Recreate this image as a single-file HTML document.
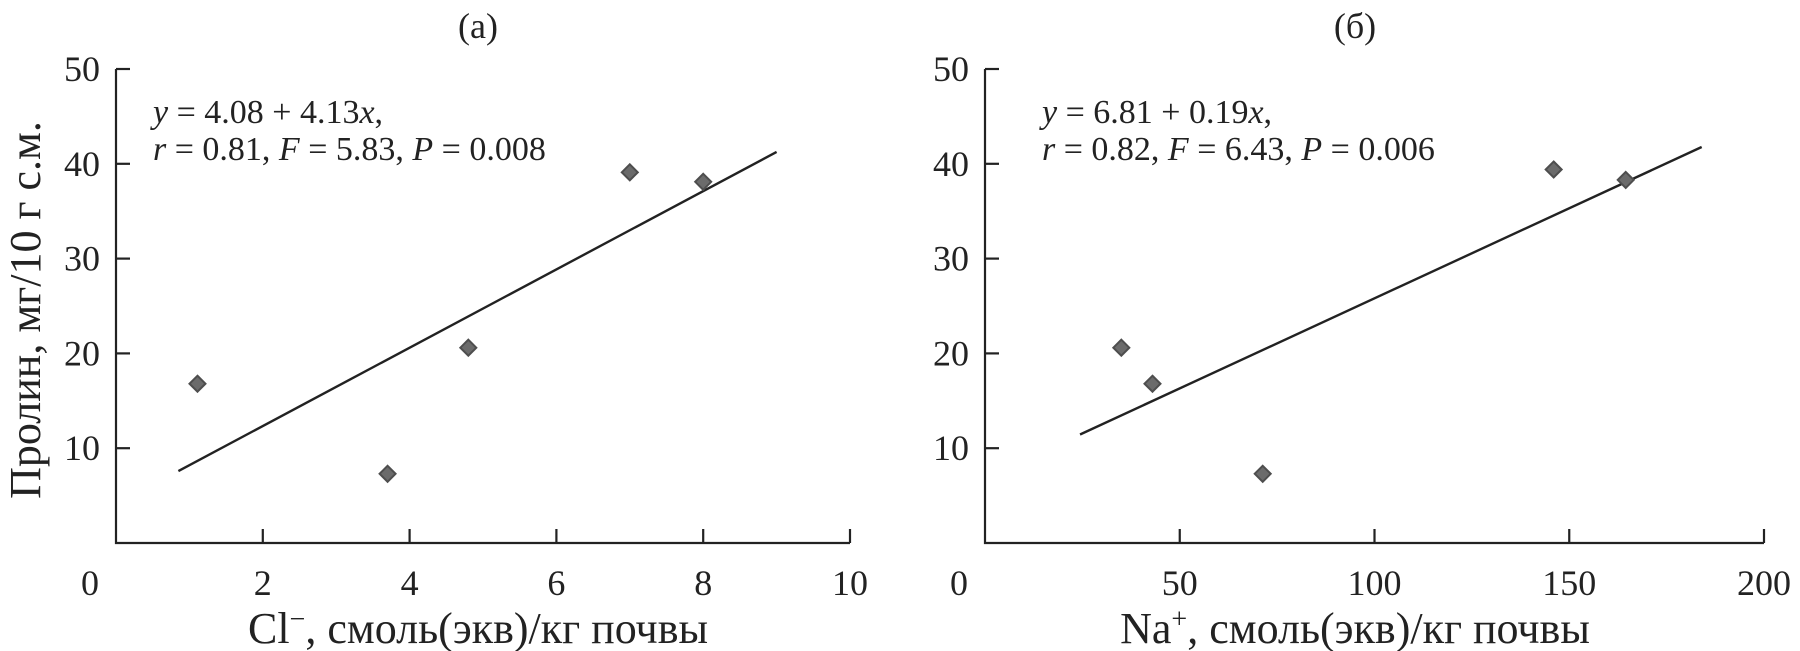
<!DOCTYPE html>
<html><head><meta charset="utf-8"><style>
html,body{margin:0;padding:0;background:#fff;}
svg{display:block;font-family:"Liberation Serif",serif;}
</style></head><body>
<svg id="chart" width="1800" height="651" viewBox="0 0 1800 651" xmlns="http://www.w3.org/2000/svg"></svg>
<script>
const clX=[1.11,3.7,4.8,7.0,8.0];
const clY=[16.8,7.3,20.6,39.1,38.1];
const clFit=[4.08,4.13];
const clFitRange=[0.85,9.0];
const clXTicks=[0,2,4,6,8,10];
const naX=[35,43,71.3,146,164.5];
const naY=[20.6,16.8,7.3,39.4,38.3];
const naFit=[6.81,0.19];
const naFitRange=[24.4,184];
const naXTicks=[0,50,100,150,200];
const yTicks=[10,20,30,40,50];

const NS="http://www.w3.org/2000/svg";
const svg=document.getElementById('chart');
function mk(tag,attrs,parent){const e=document.createElementNS(NS,tag);for(const k in attrs)e.setAttribute(k,attrs[k]);(parent||svg).appendChild(e);return e;}

const Y0=543,Y50=69;
function yS(v){return Y0+(Y50-Y0)*v/50;}

function panel(cfg){
  const g=mk('g',{});
  
  
  const xS=v=>cfg.x0+(cfg.x1-cfg.x0)*(v-cfg.xmin)/(cfg.xmax-cfg.xmin);
  const ax=mk('path',{d:`M${cfg.x0},${yS(50)} L${cfg.x0},${Y0} L${cfg.x1},${Y0}`,fill:'none',stroke:'#222','stroke-width':2.2},g);
  
  
  yTicks.forEach(t=>{
    const tk=mk('line',{x1:cfg.x0,x2:cfg.x0+14,y1:yS(t),y2:yS(t),stroke:'#222','stroke-width':2.2},g);
    
    
    const lb=mk('text',{x:cfg.x0-16,y:yS(t)+12,'text-anchor':'end','font-size':36,fill:'#222'},g);
    lb.textContent=t;
    
    
  });
  cfg.xTicks.forEach((t,i)=>{
    if(i>0){
      const tk=mk('line',{x1:xS(t),x2:xS(t),y1:Y0,y2:Y0-14,stroke:'#222','stroke-width':2.2},g);
      
      
    }
    const lb=mk('text',{x:i===0?xS(t)-26:xS(t),y:595,'text-anchor':'middle','font-size':36,fill:'#222'},g);
    lb.textContent=t;
    
    
  });
  const fl=mk('line',{x1:xS(cfg.fitR[0]),y1:yS(cfg.fit[0]+cfg.fit[1]*cfg.fitR[0]),x2:xS(cfg.fitR[1]),y2:yS(cfg.fit[0]+cfg.fit[1]*cfg.fitR[1]),stroke:'#222','stroke-width':2.4},g);
  
  
  cfg.xs.forEach((xv,i)=>{
    const cx=xS(xv),cy=yS(cfg.ys[i]),r=8;
    const p=mk('polygon',{points:`${cx},${cy-r} ${cx+r},${cy} ${cx},${cy+r} ${cx-r},${cy}`,fill:'#6b6b6b',stroke:'#4e4e4e','stroke-width':2},g);
    
    
  });
  const ttl=mk('text',{x:cfg.titleX,y:38,'text-anchor':'middle','font-size':36,fill:'#222'},g);
  ttl.textContent=cfg.title;
  
  
  const e1=mk('text',{x:cfg.eqX,y:123,'font-size':34,fill:'#222'},g);
  e1.innerHTML=cfg.eq1;
  
  
  const e2=mk('text',{x:cfg.eqX,y:160,'font-size':34,fill:'#222'},g);
  e2.innerHTML=cfg.eq2;
  
  
  const xt=mk('text',{x:cfg.titleX,y:643,'text-anchor':'middle','font-size':44,fill:'#222'},g);
  xt.innerHTML=cfg.xTitle;
  
  
}

panel({name:'panel-a',x0:116,x1:850,xmin:0,xmax:10,xTicks:clXTicks,xs:clX,ys:clY,fit:clFit,fitR:clFitRange,title:'(a)',titleX:478,eqX:153,
 eq1:'<tspan font-style="italic">y</tspan> = 4.08 + 4.13<tspan font-style="italic">x</tspan>,',
 eq2:'<tspan font-style="italic">r</tspan> = 0.81, <tspan font-style="italic">F</tspan> = 5.83, <tspan font-style="italic">P</tspan> = 0.008',
 xTitle:'Cl<tspan dy="-15" font-size="28">−</tspan><tspan dy="15">, смоль(экв)/кг почвы</tspan>'});
panel({name:'panel-b',x0:985,x1:1764,xmin:0,xmax:200,xTicks:naXTicks,xs:naX,ys:naY,fit:naFit,fitR:naFitRange,title:'(б)',titleX:1355,eqX:1042,
 eq1:'<tspan font-style="italic">y</tspan> = 6.81 + 0.19<tspan font-style="italic">x</tspan>,',
 eq2:'<tspan font-style="italic">r</tspan> = 0.82, <tspan font-style="italic">F</tspan> = 6.43, <tspan font-style="italic">P</tspan> = 0.006',
 xTitle:'Na<tspan dy="-15" font-size="28">+</tspan><tspan dy="15">, смоль(экв)/кг почвы</tspan>'});

const yt=mk('text',{x:0,y:0,'text-anchor':'middle','font-size':44,fill:'#222',transform:'translate(40,310) rotate(-90)'});
yt.textContent='Пролин, мг/10 г с.м.';


</script>
</body></html>
